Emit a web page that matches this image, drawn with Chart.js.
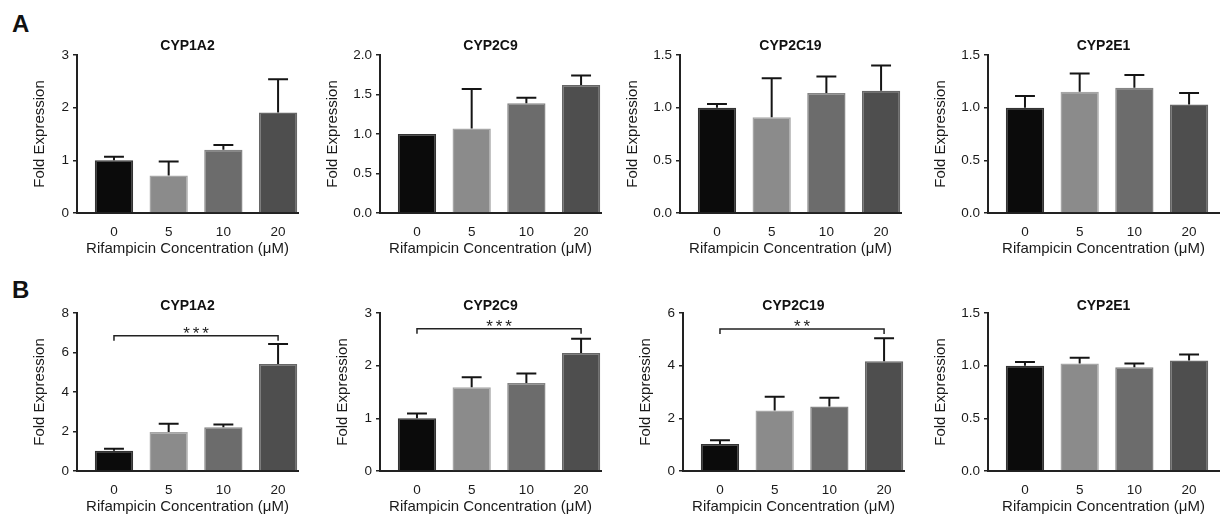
<!DOCTYPE html>
<html>
<head>
<meta charset="utf-8">
<script src="https://cdn.jsdelivr.net/npm/chart.js@4.4.0/dist/chart.umd.min.js"></script>
<style>
  body { margin: 0; background: #fff; width: 1222px; height: 521px; position: relative; overflow: hidden;
         font-family: 'Liberation Sans', Arial, sans-serif; }
  .panel-label { position: absolute; font-weight: bold; font-size: 24px; line-height: 24px; color: #111; }
  canvas { position: absolute; }
</style>
</head>
<body>
<div class="panel-label" style="left:12px;top:12px">A</div>
<div class="panel-label" style="left:12px;top:278px">B</div>
<script>
// Categorias y nombres
const concLabels = ['0', '5', '10', '20'];
const geneNames = ['CYP1A2', 'CYP2C9', 'CYP2C19', 'CYP2E1'];

// Panel A: media y SEM (solo barra superior)
const meanA_CYP1A2 = [1.00, 0.71, 1.20, 1.91];
const semA_CYP1A2 = [0.07, 0.27, 0.09, 0.63];
const meanA_CYP2C9 = [1.00, 1.07, 1.39, 1.62];
const semA_CYP2C9 = [0.00, 0.50, 0.07, 0.12];
const meanA_CYP2C19 = [1.00, 0.91, 1.14, 1.16];
const semA_CYP2C19 = [0.035, 0.37, 0.155, 0.24];
const meanA_CYP2E1 = [1.00, 1.15, 1.19, 1.03];
const semA_CYP2E1 = [0.11, 0.175, 0.12, 0.11];

// Panel B
const meanB_CYP1A2 = [1.02, 1.97, 2.22, 5.42];
const semB_CYP1A2 = [0.11, 0.42, 0.14, 1.01];
const meanB_CYP2C9 = [1.00, 1.59, 1.67, 2.24];
const semB_CYP2C9 = [0.09, 0.19, 0.18, 0.27];
const meanB_CYP2C19 = [1.03, 2.30, 2.45, 4.17];
const semB_CYP2C19 = [0.14, 0.52, 0.33, 0.87];
const meanB_CYP2E1 = [1.00, 1.02, 0.985, 1.05];
const semB_CYP2E1 = [0.035, 0.055, 0.035, 0.055];

// Ejes Y
const yMaxA = [3, 2, 1.5, 1.5];
const yStepA = [1, 0.5, 0.5, 0.5];
const yMaxB = [8, 3, 6, 1.5];
const yStepB = [2, 1, 2, 0.5];

// Significancia (0 vs 20) en panel B
const sigTextB = ['***', '***', '**', null];
const sigLevelB = [6.85, 2.70, 5.39, null];

// Layout (px)
const axisLeftA = [77, 380, 680, 988];
const axisLeftB = [77, 380, 683, 988];
const plotWidths = [221, 221, 221, 231];
const rowCanvasTop = [25, 283];
const Y_SCALE_W = 62;
const X_SCALE_H = 50;
const BAR_SPACING = 54.7;
const X_MIN = -0.676;

const barFill = ['#0b0b0b', '#8b8b8b', '#6c6c6c', '#4e4e4e'];
const barEdge = ['#333333', '#a6a6a6', '#858585', '#666666'];

Chart.defaults.font.family = "'Liberation Sans', Arial, sans-serif";
Chart.defaults.color = '#1a1a1a';

// Barras de error (solo hacia arriba, con tope)
const errorBarPlugin = {
    id: 'errorBars',
    afterDatasetsDraw(chart, args, opts) {
        const sem = opts.sem || [];
        const meta = chart.getDatasetMeta(0);
        const yScale = chart.scales.y;
        const ctx = chart.ctx;
        ctx.save();
        ctx.strokeStyle = '#151515';
        ctx.lineWidth = 2;
        meta.data.forEach((bar, i) => {
            if (!sem[i]) return;
            const mean = chart.data.datasets[0].data[i].y;
            const top = yScale.getPixelForValue(mean + sem[i]);
            const capHalf = bar.width * 0.26;
            ctx.beginPath();
            ctx.moveTo(bar.x, bar.y);
            ctx.lineTo(bar.x, top);
            ctx.moveTo(bar.x - capHalf, top);
            ctx.lineTo(bar.x + capHalf, top);
            ctx.stroke();
        });
        ctx.restore();
    }
};

// Corchete de significancia
const bracketPlugin = {
    id: 'sigBracket',
    afterDatasetsDraw(chart, args, opts) {
        if (!opts.text) return;
        const ctx = chart.ctx;
        const x1 = chart.scales.x.getPixelForValue(opts.from);
        const x2 = chart.scales.x.getPixelForValue(opts.to);
        const y = chart.scales.y.getPixelForValue(opts.level);
        ctx.save();
        ctx.strokeStyle = '#222';
        ctx.lineWidth = 1.5;
        ctx.beginPath();
        ctx.moveTo(x1, y + 5);
        ctx.lineTo(x1, y);
        ctx.lineTo(x2, y);
        ctx.lineTo(x2, y + 5);
        ctx.stroke();
        ctx.fillStyle = '#222';
        ctx.font = "17px 'Liberation Sans', Arial, sans-serif";
        ctx.textAlign = 'center';
        ctx.textBaseline = 'alphabetic';
        const n = opts.text.length;
        const mid = (x1 + x2) / 2;
        for (let k = 0; k < n; k++) {
            ctx.fillText(opts.text[k], mid + (k - (n - 1) / 2) * 9.5, y + 3);
        }
        ctx.restore();
    }
};

function crearPanel(row, col, means, sem, yMax, yStep, sig) {
    const axisX = (row === 0 ? axisLeftA : axisLeftB)[col];
    const plotW = plotWidths[col];
    const canvas = document.createElement('canvas');
    const w = Y_SCALE_W + plotW + 8;
    const h = 30 + 158 + X_SCALE_H;
    canvas.width = w;
    canvas.height = h;
    canvas.style.left = (axisX - Y_SCALE_W) + 'px';
    canvas.style.top = rowCanvasTop[row] + 'px';
    canvas.style.width = w + 'px';
    canvas.style.height = h + 'px';
    document.body.appendChild(canvas);

    const decimals = yStep < 1;
    const titleGap = decimals ? 47 : 37;

    new Chart(canvas.getContext('2d'), {
        type: 'bar',
        data: {
            datasets: [{
                data: means.map((v, i) => ({ x: i, y: v })),
                backgroundColor: barFill,
                borderColor: barEdge,
                borderWidth: 1.5,
                borderSkipped: 'start',
                barPercentage: 0.7,
                categoryPercentage: 1
            }]
        },
        options: {
            responsive: false,
            animation: false,
            layout: { padding: { left: 0, right: 8, top: 0, bottom: 0 } },
            scales: {
                x: {
                    type: 'linear',
                    min: X_MIN,
                    max: X_MIN + plotW / BAR_SPACING,
                    offset: false,
                    grid: { display: false, drawTicks: false, offset: false },
                    border: { display: true, color: '#222', width: 2 },
                    ticks: {
                        stepSize: 1,
                        includeBounds: false,
                        padding: 11,
                        font: { size: 13.5 },
                        callback: (v) => concLabels[v] !== undefined ? concLabels[v] : ''
                    },
                    title: {
                        display: true,
                        text: 'Rifampicin Concentration (\u03bcM)',
                        font: { size: 15 },
                        padding: { top: 0, bottom: 5.5 }
                    },
                    afterFit: (scale) => { scale.height = X_SCALE_H; }
                },
                y: {
                    min: 0,
                    max: yMax,
                    grid: { drawOnChartArea: false, drawTicks: true, tickLength: 4, color: '#222', lineWidth: 1.5 },
                    border: { display: true, color: '#222', width: 2 },
                    ticks: {
                        stepSize: yStep,
                        padding: 4,
                        font: { size: 13.5 },
                        callback: (v) => decimals ? Number(v).toFixed(1) : String(v)
                    },
                    title: {
                        display: true,
                        text: 'Fold Expression',
                        font: { size: 15 },
                        padding: { top: Y_SCALE_W - titleGap - 9, bottom: 0 }
                    },
                    afterFit: (scale) => { scale.width = Y_SCALE_W; }
                }
            },
            plugins: {
                legend: { display: false },
                tooltip: { enabled: false },
                title: {
                    display: true,
                    text: geneNames[col],
                    fullSize: false,
                    color: '#111',
                    font: { size: 14, weight: 'bold', lineHeight: 1 },
                    padding: row === 0 ? { top: 14, bottom: 2 } : { top: 16, bottom: 0 }
                },
                errorBars: { sem: sem },
                sigBracket: sig
            }
        },
        plugins: [errorBarPlugin, bracketPlugin]
    });
}

document.addEventListener('DOMContentLoaded', function() {
    const meansA = [meanA_CYP1A2, meanA_CYP2C9, meanA_CYP2C19, meanA_CYP2E1];
    const semsA = [semA_CYP1A2, semA_CYP2C9, semA_CYP2C19, semA_CYP2E1];
    const meansB = [meanB_CYP1A2, meanB_CYP2C9, meanB_CYP2C19, meanB_CYP2E1];
    const semsB = [semB_CYP1A2, semB_CYP2C9, semB_CYP2C19, semB_CYP2E1];

    for (let c = 0; c < 4; c++) {
        crearPanel(0, c, meansA[c], semsA[c], yMaxA[c], yStepA[c], {});
        crearPanel(1, c, meansB[c], semsB[c], yMaxB[c], yStepB[c],
            sigTextB[c] ? { from: 0, to: 3, level: sigLevelB[c], text: sigTextB[c] } : {});
    }
});
</script>
</body>
</html>
